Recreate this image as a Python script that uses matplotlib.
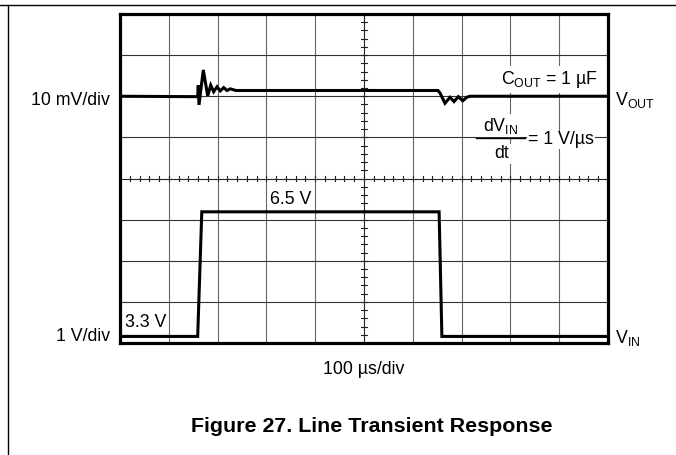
import matplotlib
matplotlib.use("Agg")
import matplotlib.pyplot as plt
from matplotlib.lines import Line2D

plt.rcParams["font.family"] = ["Liberation Sans", "DejaVu Sans"]
plt.rcParams["mathtext.fontset"] = "custom"
plt.rcParams["mathtext.rm"] = "Liberation Sans"
plt.rcParams["mathtext.it"] = "Liberation Sans:italic"
plt.rcParams["mathtext.bf"] = "Liberation Sans:bold"

# screen: 10 x 100 us divisions, 8 vertical divisions
n_xdiv = 10
n_ydiv = 8
us_per_div = 100

# VOUT trace (time in us, position in divisions, 10 mV/div)
vout_t_us = [0, 159.2, 160.4, 161.9, 170.7, 179.7, 185.9, 192.0, 198.8, 205.5,
             212.5, 219.3, 226.0, 237.7, 651.6, 655.7, 666.0, 676.2, 684.4,
             693.2, 702.3, 710.5, 717.2, 1000]
vout_div = [6.0, 5.99, 6.27, 5.79, 6.64, 6.01, 6.27, 6.11, 6.23, 6.13,
            6.21, 6.14, 6.18, 6.14, 6.14, 6.08, 5.83, 5.975, 5.87,
            5.99, 5.89, 5.975, 6.0, 6.0]

# VIN trace (1 V/div)
vin_t_us = [0, 159.2, 167.6, 653.9, 659.6, 1000]
vin_div = [0.16, 0.16, 3.19, 3.19, 0.16, 0.16]

fig = plt.figure(figsize=(6.76, 4.55), dpi=100)
ax = fig.add_axes([120 / 676, 1 - 343 / 455, 488 / 676, 329 / 455])
ax.set_xlim(0, n_xdiv * us_per_div)
ax.set_ylim(0, n_ydiv)
ax.set_xticks([])
ax.set_yticks([])
for sp in ax.spines.values():
    sp.set_linewidth(2.3)
    sp.set_color("black")
    sp.set_zorder(6)

# grid
for i in range(1, n_xdiv):
    if i == n_xdiv // 2:
        continue
    ax.axvline(i * us_per_div, color="#666666", lw=0.8, zorder=1)
for j in range(1, n_ydiv):
    if j == n_ydiv // 2:
        continue
    ax.axhline(j, color="#333333", lw=0.8, zorder=1)

# centre axes with minor ticks
xc = n_xdiv // 2 * us_per_div
yc = n_ydiv // 2
ax.axvline(xc, color="#222222", lw=0.8, zorder=1)
ax.axhline(yc, color="#222222", lw=0.8, zorder=1)
for k in range(1, n_ydiv * 5):
    ax.plot([xc - 6, xc + 6], [k * 0.2, k * 0.2], color="#222222", lw=0.8, zorder=1)
for k in range(1, n_xdiv * 5):
    ax.plot([k * 20, k * 20], [yc - 0.07, yc + 0.07], color="#222222", lw=0.8, zorder=1)

# traces
ax.plot(vout_t_us, vout_div, color="black", lw=2.2, zorder=4, solid_joinstyle="miter")
ax.plot(vin_t_us, vin_div, color="black", lw=2.2, zorder=4, solid_joinstyle="miter")

fs = 12.8
wb = dict(facecolor="white", edgecolor="none", pad=1.0)

ax.text(980, 6.4, r"C$_{\mathrm{OUT}}$ = 1 µF", fontsize=fs, ha="right", va="center",
        bbox=dict(facecolor="white", edgecolor="none", pad=2.0), zorder=5)
ax.text(779, 5.28, r"dV$_{\mathrm{IN}}$", fontsize=fs, ha="center", va="center",
        bbox=wb, zorder=5)
ax.text(783, 4.6, "dt", fontsize=fs, ha="center", va="center", bbox=wb, zorder=5)
ax.plot([730, 830], [4.98, 4.98], color="black", lw=1.0, zorder=6)
ax.text(836, 4.94, "= 1 V/µs", fontsize=fs, ha="left", va="center",
        bbox=dict(facecolor="white", edgecolor="none", pad=0.5), zorder=5)

ax.text(307, 3.5, "6.5 V", fontsize=fs, ha="left", va="center", zorder=5)
ax.text(10, 0.5, "3.3 V", fontsize=fs, ha="left", va="center", zorder=5)

ax.text(-20, 5.9, "10 mV/div", fontsize=fs, ha="right", va="center", clip_on=False)
ax.text(-20, 0.16, "1 V/div", fontsize=fs, ha="right", va="center", clip_on=False)
ax.text(1014, 5.9, r"V$_{\mathrm{OUT}}$", fontsize=fs, ha="left", va="center", clip_on=False)
ax.text(1014, 0.12, r"V$_{\mathrm{IN}}$", fontsize=fs, ha="left", va="center", clip_on=False)

fig.text(364 / 676, 1 - 369 / 455, "100 µs/div", fontsize=fs, ha="center", va="center")
fig.text(372 / 676, 1 - 426 / 455, "Figure 27. Line Transient Response", fontsize=15.4,
         fontweight="bold", ha="center", va="center")

# page frame lines
fig.add_artist(Line2D([0, 1], [1 - 5 / 455, 1 - 5 / 455], color="black", lw=1.0))
fig.add_artist(Line2D([8 / 676, 8 / 676], [0, 1 - 5 / 455], color="black", lw=1.0))

fig.savefig("out.png", dpi=100)
